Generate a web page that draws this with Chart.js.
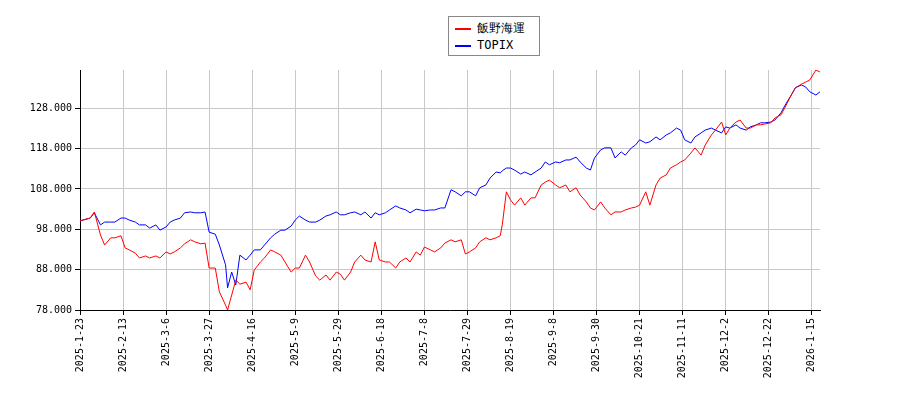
<!DOCTYPE html>
<html>
<head>
<meta charset="utf-8">
<script src="https://cdn.jsdelivr.net/npm/chart.js@4"></script>
<style>
  body { margin: 0; background: #fff; }
  #wrap { position: relative; width: 900px; height: 400px; }
  #legend {
    position: absolute; left: 448px; top: 16px; width: 90px; height: 38px;
    border: 1px solid #888; background: #fff;
    font: 12px "DejaVu Sans Mono", monospace; color: #000;
  }
  .item { position: absolute; left: 6px; height: 16px; line-height: 16px; }
  .item i { display: inline-block; width: 16px; height: 0; border-top: 2px solid; vertical-align: middle; margin-right: 6px; }
</style>
</head>
<body>
<div id="wrap">
  <canvas id="c" width="900" height="400"></canvas>
  <div id="legend">
    <div class="item" style="top:3px"><i style="border-color:#f00"></i>飯野海運</div>
    <div class="item" style="top:20px"><i style="border-color:#00f"></i>TOPIX</div>
  </div>
</div>
<script>
// position along the axis, in days-ish units from the first point
const days = [
  0,5,7,10,12,15,17,20,22,24,
  27,29,32,34,37,39,42,44,46,49,
  51,54,56,59,61,63,66,68,71,72,
  74,76,78,81,83,85,88,90,93,95,
  98,100,103,105,107,110,112,115,117,120,
  122,125,127,129,132,134,137,139,142,144,
  146,149,151,154,156,159,161,164,166,168,
  171,173,176,178,181,183,186,188,190,193,
  195,198,200,203,205,206,208,210,212,215,
  217,220,222,225,227,229,232,234,237,239,
  242,244,247,249,251,254,256,259,261,264,
  266,269,271,273,276,278,281,283,286,288,
  291,293,295,298,300,303,305,308,310,313,
  315,317,320,322,325,327,330,332,334,337,
  339,342,344,347,349,352,354,356,359,361
];
const iino = [
  100.1,100.8,102.3,96.6,94.1,95.9,95.9,96.4,93.4,92.9,
  92.1,90.9,91.4,90.9,91.4,90.9,92.4,91.9,92.4,93.4,
  94.4,95.4,94.9,94.4,94.6,88.4,88.4,82.5,79.2,78.0,
  81.7,85.4,84.4,84.9,83.0,87.9,89.9,90.9,92.9,92.4,
  91.6,89.9,87.4,88.4,88.4,91.6,89.9,86.4,85.4,86.7,
  85.4,87.4,86.9,85.4,87.4,89.9,91.6,90.4,89.9,94.9,
  90.4,89.9,89.9,88.4,89.9,90.9,89.9,92.4,91.6,93.6,
  92.9,92.4,93.4,94.6,95.4,94.9,95.4,91.9,92.4,93.4,
  94.9,95.9,95.4,95.9,96.4,99.1,107.3,105.3,104.0,105.8,
  104.0,105.8,105.8,109.0,109.7,110.2,109.0,108.3,109.0,107.3,
  108.3,106.5,104.8,103.3,102.8,104.8,103.3,101.6,102.3,102.3,
  102.8,103.3,103.5,104.0,107.3,104.0,109.0,110.7,111.5,113.2,
  114.0,114.7,115.2,116.9,118.2,116.4,118.9,121.4,122.6,124.6,
  121.4,123.1,124.6,125.1,123.1,123.1,123.9,123.9,124.1,124.4,
  125.6,126.4,128.3,131.3,133.1,134.0,134.5,135.0,137.5,137.0
];
const topix = [
  100.1,100.8,102.1,99.1,99.8,99.8,99.8,100.8,100.8,100.3,
  99.8,99.1,99.1,98.3,99.1,97.8,98.6,99.8,100.3,100.8,
  102.1,102.3,102.1,102.1,102.3,97.3,96.8,94.1,89.2,83.5,
  87.4,84.2,91.6,90.4,91.6,92.9,92.9,94.1,95.9,96.8,
  97.8,97.8,98.8,100.3,101.3,100.3,99.8,99.8,100.3,101.3,
  101.6,102.3,101.6,101.6,102.1,102.3,101.6,102.3,100.8,102.1,
  101.6,102.1,102.8,103.8,103.3,102.8,102.1,103.0,102.8,102.6,
  102.8,102.8,103.3,103.3,107.8,107.3,106.3,107.3,107.3,106.3,
  108.3,109.0,110.7,112.2,112.0,112.5,113.2,113.2,112.7,111.7,
  112.2,111.5,112.2,113.2,114.7,114.0,114.7,114.5,115.2,115.2,
  115.9,114.7,113.2,112.7,115.7,117.7,118.2,118.2,115.7,117.2,
  116.4,118.2,118.9,120.2,119.4,119.7,120.9,120.2,121.4,121.9,
  123.1,122.6,120.2,119.4,120.9,121.9,122.6,123.1,122.6,121.9,
  123.4,123.1,123.9,123.1,122.6,123.4,123.9,124.4,124.4,124.6,
  125.1,126.9,128.8,131.3,133.1,133.8,133.3,132.1,131.3,132.1
];
const xTicks = [0,21,42,63,84,105,126,147,168,189,210,231,252,273,294,315,336,357];
const xLabels = [
  '2025-1-23','2025-2-13','2025-3-6','2025-3-27','2025-4-16','2025-5-9',
  '2025-5-29','2025-6-18','2025-7-8','2025-7-29','2025-8-19','2025-9-8',
  '2025-9-30','2025-10-21','2025-11-11','2025-12-2','2025-12-22','2026-1-15'
];
const yTicks = [78,88,98,108,118,128];

const font = { family: "'DejaVu Sans Mono', monospace", size: 10 };

new Chart(document.getElementById('c'), {
  type: 'line',
  data: {
    datasets: [
      { label: '飯野海運', data: days.map((d, i) => ({ x: d, y: iino[i] })), borderColor: '#f00', borderWidth: 1, pointRadius: 0, tension: 0 },
      { label: 'TOPIX', data: days.map((d, i) => ({ x: d, y: topix[i] })), borderColor: '#00f', borderWidth: 1, pointRadius: 0, tension: 0 }
    ]
  },
  options: {
    responsive: false,
    animation: false,
    layout: { padding: { left: 0, right: 80, top: 70, bottom: 0 } },
    plugins: { legend: { display: false }, tooltip: { enabled: false } },
    scales: {
      x: {
        type: 'linear', min: 0, max: 361,
        afterBuildTicks: s => { s.ticks = xTicks.map(v => ({ value: v })); },
        afterFit: s => { s.height = 90; },
        ticks: { callback: (v, i) => xLabels[i], maxRotation: 90, minRotation: 90, color: '#000', font: font, autoSkip: false },
        grid: { color: '#c8c8c8', tickLength: 5, tickColor: '#000' },
        border: { color: '#000' }
      },
      y: {
        min: 78, max: 137.5,
        afterBuildTicks: s => { s.ticks = yTicks.map(v => ({ value: v })); },
        afterFit: s => { s.width = 80; },
        ticks: { callback: v => v.toFixed(3), color: '#000', font: font },
        grid: { color: '#c8c8c8', tickLength: 5, tickColor: '#000' },
        border: { color: '#000' }
      }
    }
  }
});
</script>
</body>
</html>
